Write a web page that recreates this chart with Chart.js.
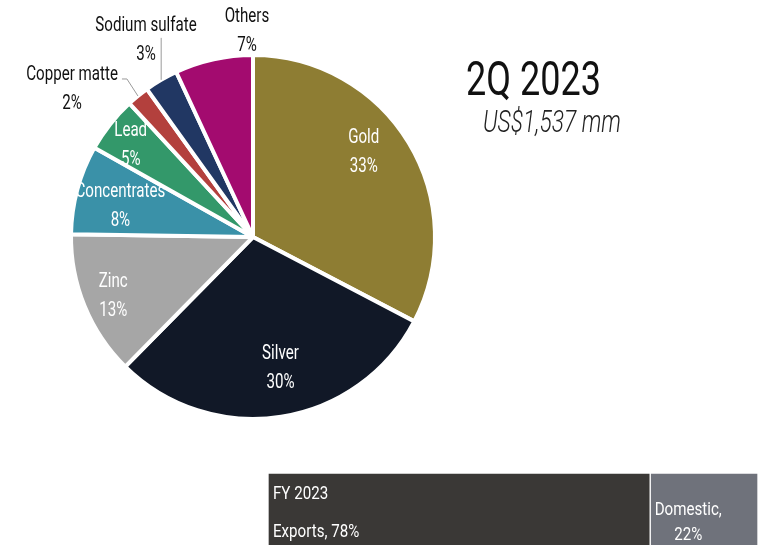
<!DOCTYPE html>
<html>
<head>
<meta charset="utf-8">
<script src="https://cdn.jsdelivr.net/npm/chart.js@4/dist/chart.umd.min.js"></script>
<style>
  html, body { margin: 0; padding: 0; background: #fff; overflow: hidden; }
  body { width: 774px; height: 545px; position: relative; font-family: Roboto, sans-serif; }
  #pieWrap { position: absolute; left: 0; top: 0; width: 774px; height: 545px; }
  #barWrap { position: absolute; left: 268px; top: 473px; width: 490px; height: 100px; }
  .title, .sub { position: absolute; line-height: 1; white-space: nowrap; transform-origin: 0 0; }
  .title { left: 466px; top: 55px; font-size: 48px; color: #111; transform: scaleX(0.75); }
  .sub { left: 483px; top: 106px; font-size: 31px; font-style: italic; font-weight: 300; color: #222; transform: scaleX(0.735); }
</style>
</head>
<body>
<div id="pieWrap"><canvas id="salesPie"></canvas></div>
<div class="title">2Q 2023</div>
<div class="sub">US$1,537 mm</div>
<div id="barWrap"><canvas id="marketBar"></canvas></div>
<script>
const FONT = 'Roboto, sans-serif';

// sales by product, 2Q 2023 (% of total)
const products = ['Gold', 'Silver', 'Zinc', 'Concentrates', 'Lead', 'Copper matte', 'Sodium sulfate', 'Others'];
const shares = [33, 30, 13, 8, 5, 2, 3, 7];
const sliceColors = ['#8e7d33', '#111827', '#a6a6a6', '#3a91a8', '#33986a', '#b3403d', '#213763', '#a30b6f'];

// FY 2023 destination split
const markets = ['Exports', 'Domestic'];
const marketShares = [78, 22];
const marketColors = ['#3a3836', '#6f727b'];

// where each pie label sits: radius as fraction of the pie, angle nudge in degrees,
// whether it goes outside (dark text) and optional leader elbows (px from slice edge)
const labelSpots = [
    { r: 0.77, da: -6.6 },
    { r: 0.73, da: -3 },
    { r: 0.83, da: 0 },
    { r: 0.75, da: -1.4 },
    { r: 0.845, da: -1 },
    { r: 1.29, da: -11.2, out: true, leader: [[-11, -17], [-16, -17]] },
    { r: 1.24, da: 2, out: true, leader: [[0, -42]] },
    { r: 1.137, da: 10.8, out: true }
];

// squeeze the face horizontally for a condensed look
function narrowText(ctx, text, x, y, sx) {
    ctx.save();
    ctx.translate(x, y);
    ctx.scale(sx, 1);
    ctx.fillText(text, 0, 0);
    ctx.restore();
}

const pieLabels = {
    id: 'pieLabels',
    afterDatasetsDraw(chart) {
        const ctx = chart.ctx;
        const arcs = chart.getDatasetMeta(0).data;
        ctx.save();
        ctx.font = '21px ' + FONT;
        ctx.textAlign = 'center';
        ctx.textBaseline = 'middle';
        arcs.forEach((arc, i) => {
            const p = arc.getProps(['x', 'y', 'startAngle', 'endAngle', 'outerRadius'], true);
            const mid = (p.startAngle + p.endAngle) / 2;
            const spot = labelSpots[i];
            if (spot.leader) {
                const ex = p.x + Math.cos(mid) * p.outerRadius;
                const ey = p.y + Math.sin(mid) * p.outerRadius;
                ctx.strokeStyle = '#9a9a9a';
                ctx.lineWidth = 1;
                ctx.beginPath();
                ctx.moveTo(ex, ey);
                spot.leader.forEach(pt => ctx.lineTo(ex + pt[0], ey + pt[1]));
                ctx.stroke();
            }
            const a = mid + spot.da * Math.PI / 180;
            const lx = p.x + Math.cos(a) * p.outerRadius * spot.r;
            const ly = p.y + Math.sin(a) * p.outerRadius * spot.r;
            ctx.fillStyle = spot.out ? '#111111' : '#ffffff';
            narrowText(ctx, products[i], lx, ly - 13, 0.72);
            narrowText(ctx, shares[i] + '%', lx, ly + 16, 0.72);
        });
        ctx.restore();
    }
};

new Chart(document.getElementById('salesPie'), {
    type: 'pie',
    data: {
        labels: products,
        datasets: [{
            data: shares,
            backgroundColor: sliceColors,
            borderColor: '#ffffff',
            borderWidth: 4
        }]
    },
    options: {
        responsive: true,
        maintainAspectRatio: false,
        animation: false,
        layout: { padding: { left: 69, right: 337, top: 53, bottom: 124 } },
        plugins: { legend: { display: false }, tooltip: { enabled: false } }
    },
    plugins: [pieLabels]
});

const barLabels = {
    id: 'barLabels',
    afterDatasetsDraw(chart) {
        const ctx = chart.ctx;
        const exp = chart.getDatasetMeta(0).data[0];
        const dom = chart.getDatasetMeta(1).data[0];
        ctx.save();
        ctx.font = '18px ' + FONT;
        ctx.fillStyle = '#ffffff';
        ctx.textBaseline = 'middle';
        ctx.textAlign = 'left';
        const expLeft = exp.base;
        narrowText(ctx, 'FY 2023', expLeft + 5, 21, 0.84);
        narrowText(ctx, markets[0] + ', ' + marketShares[0] + '%', expLeft + 5, 59, 0.84);
        ctx.textAlign = 'center';
        const domLeft = dom.base;
        narrowText(ctx, markets[1] + ',', domLeft + 38, 37, 0.84);
        narrowText(ctx, marketShares[1] + '%', domLeft + 38, 62, 0.84);
        ctx.restore();
    }
};

new Chart(document.getElementById('marketBar'), {
    type: 'bar',
    data: {
        labels: ['FY 2023'],
        datasets: markets.map((m, i) => ({
            label: m,
            data: [marketShares[i]],
            backgroundColor: marketColors[i],
            borderColor: '#ffffff',
            borderWidth: 1,
            borderSkipped: false,
            barPercentage: 1,
            categoryPercentage: 1
        }))
    },
    options: {
        indexAxis: 'y',
        responsive: true,
        maintainAspectRatio: false,
        animation: false,
        layout: { padding: 0 },
        scales: {
            x: { stacked: true, min: 0, max: 100, display: false },
            y: { stacked: true, display: false }
        },
        plugins: { legend: { display: false }, tooltip: { enabled: false } }
    },
    plugins: [barLabels]
});
</script>
</body>
</html>
